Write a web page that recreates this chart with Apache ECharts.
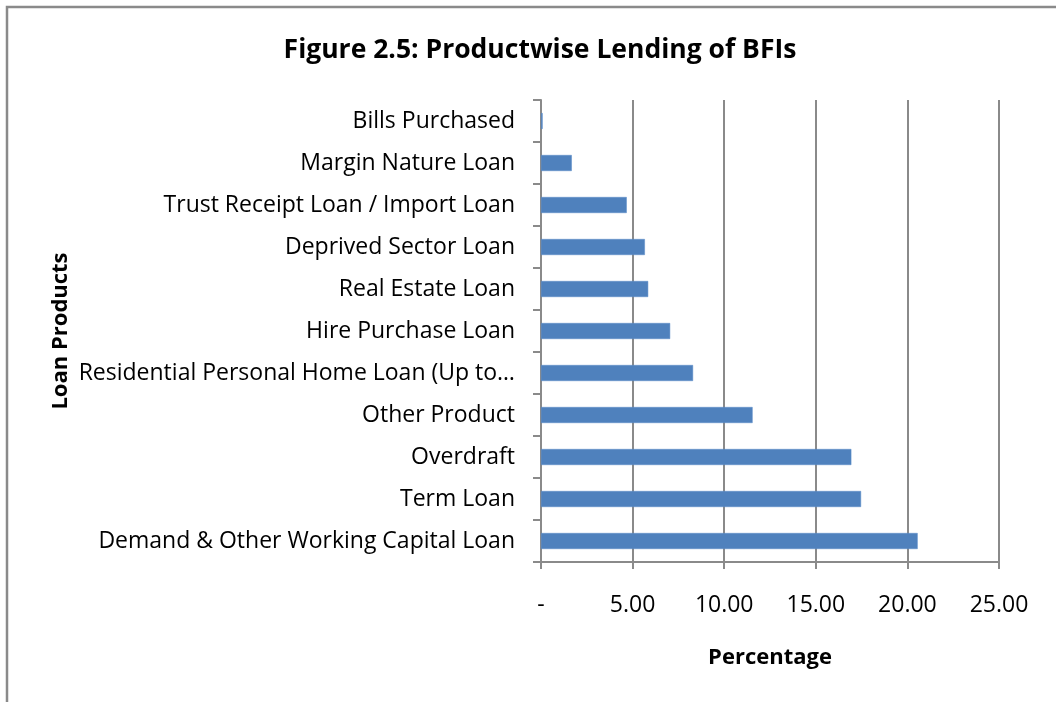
<!DOCTYPE html>
<html>
<head>
<meta charset="utf-8">
<script src="https://cdn.jsdelivr.net/npm/echarts@6/dist/echarts.min.js"></script>
<style>
html,body{margin:0;padding:0;background:#fff;}
#chart{width:1056px;height:702px;}
</style>
</head>
<body>
<div id="chart"></div>
<script>
// Categories listed top to bottom as in the reference
const categories = [
  'Bills Purchased',
  'Margin Nature Loan',
  'Trust Receipt Loan / Import Loan',
  'Deprived Sector Loan',
  'Real Estate Loan',
  'Hire Purchase Loan',
  'Residential Personal Home Loan (Up to…',
  'Other Product',
  'Overdraft',
  'Term Loan',
  'Demand & Other Working Capital Loan'
];
const values = [0.09, 1.68, 4.68, 5.67, 5.85, 7.05, 8.30, 11.55, 16.94, 17.47, 20.56];
const xTickLabels = { 0: '-', 5: '5.00', 10: '10.00', 15: '15.00', 20: '20.00', 25: '25.00' };

const FONT = 'Open Sans';
const chart = echarts.init(document.getElementById('chart'));
chart.setOption({
  animation: false,
  backgroundColor: '#ffffff',
  graphic: [{
    type: 'rect',
    shape: { x: 7, y: 7, width: 1200, height: 900 },
    style: { fill: 'none', stroke: '#8a8a8a', lineWidth: 2.5 },
    silent: true
  }],
  title: {
    text: 'Figure 2.5: Productwise Lending of BFIs',
    left: 535, top: 32, textAlign: 'center',
    textStyle: { fontFamily: FONT, fontWeight: 'bold', fontSize: 26.5, color: '#000' }
  },
  grid: { left: 541, right: 57, top: 100, bottom: 140, containLabel: false },
  xAxis: {
    type: 'value', min: 0, max: 25, interval: 5,
    name: 'Percentage', nameLocation: 'middle', nameGap: 85,
    nameTextStyle: { fontFamily: FONT, fontWeight: 'bold', fontSize: 22, color: '#000' },
    axisLine: { show: true, lineStyle: { color: '#8a8a8a', width: 2 } },
    axisTick: { show: true, length: 7, lineStyle: { color: '#8a8a8a', width: 2 } },
    axisLabel: {
      fontFamily: FONT, fontSize: 23, color: '#000', margin: 32,
      formatter: v => xTickLabels[v] !== undefined ? xTickLabels[v] : v.toFixed(2)
    },
    splitLine: { show: true, lineStyle: { color: '#8a8a8a', width: 2 } }
  },
  yAxis: {
    type: 'category', data: categories, inverse: true,
    name: 'Loan Products', nameLocation: 'middle', nameGap: 469, nameRotate: 90,
    nameTextStyle: { fontFamily: FONT, fontWeight: 'bold', fontSize: 22, color: '#000' },
    axisLine: { show: true, lineStyle: { color: '#8a8a8a', width: 2 } },
    axisTick: { show: true, length: 8, alignWithLabel: false, lineStyle: { color: '#8a8a8a', width: 2 } },
    axisLabel: { fontFamily: FONT, fontSize: 23, color: '#000', margin: 26 },
    splitLine: { show: false }
  },
  series: [{
    type: 'bar', data: values, barWidth: 16,
    itemStyle: { color: '#4F81BD', borderColor: '#5b8cc8', borderWidth: 0.5 }
  }]
});
</script>
</body>
</html>
